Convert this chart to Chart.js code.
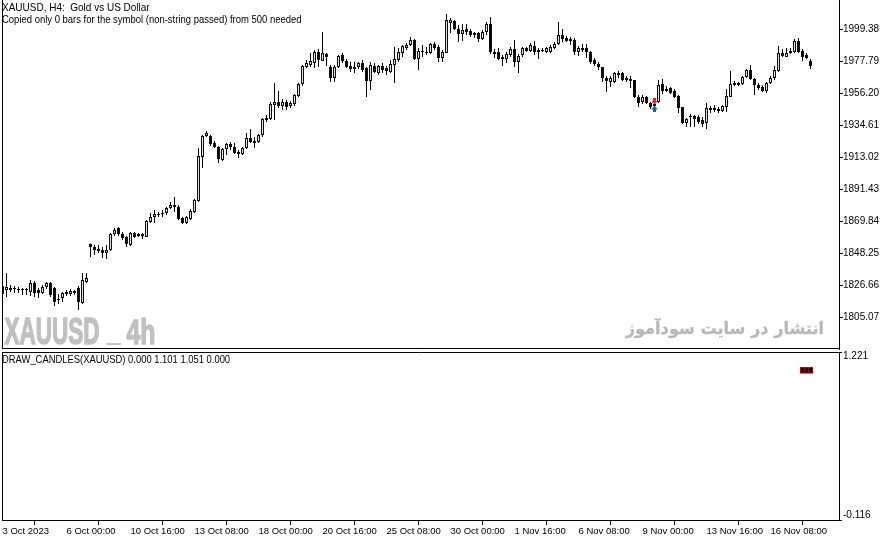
<!DOCTYPE html>
<html><head><meta charset="utf-8">
<script src="https://cdn.jsdelivr.net/npm/chart.js@4.4.0/dist/chart.umd.min.js"></script>
<style>
html,body{margin:0;padding:0;background:#fff;overflow:hidden}
#p1{position:absolute;left:0;top:0;width:892px;height:350px}
#p2{position:absolute;left:0;top:350px;width:892px;height:191px}
</style></head><body>
<div id="p1"><canvas id="c1" width="892" height="350"></canvas></div>
<div id="p2"><canvas id="c2" width="892" height="191"></canvas></div>
<script>
// ---- data (XAUUSD H4) ----
const openP = [1826.4,1823.7,1823.7,1824.4,1824.4,1823.7,1824.4,1822.4,1828.4,1823.7,
1821.7,1825.7,1828.4,1825.1,1817.7,1818.3,1821.0,1821.0,1823.1,1825.1,
1815.0,1829.1,1854.7,1852.7,1850.0,1850.7,1848.6,1850.7,1861.4,1865.5,
1861.4,1859.4,1854.0,1862.1,1861.4,1861.4,1859.4,1869.5,1872.9,1874.9,
1875.6,1875.6,1878.9,1880.9,1879.6,1872.2,1868.8,1871.5,1876.2,1883.6,
1913.2,1927.4,1927.4,1922.7,1920.0,1911.2,1918.6,1922.0,1920.0,1916.6,
1915.3,1919.3,1926.0,1924.0,1923.3,1928.0,1938.1,1938.8,1948.2,1950.3,
1947.6,1950.3,1947.6,1948.9,1954.3,1962.4,1973.8,1975.2,1976.5,1983.9,
1977.9,1982.6,1973.8,1966.4,1973.8,1981.9,1977.9,1974.5,1973.8,1973.8,
1976.5,1973.1,1964.4,1974.5,1969.8,1974.5,1973.1,1970.4,1975.2,1978.5,
1983.2,1986.6,1988.6,1992.0,1979.2,1984.6,1983.9,1983.2,1989.3,1987.3,
1979.9,1983.2,2003.4,2004.8,1999.4,1996.0,1999.4,1998.0,1996.7,1996.7,
1992.7,1997.4,2002.7,1983.9,1983.9,1980.5,1979.2,1981.9,1985.9,1977.2,
1981.9,1986.6,1984.6,1987.9,1985.3,1984.6,1983.9,1983.9,1986.6,1989.3,
1995.3,1993.3,1992.7,1992.0,1983.9,1985.3,1986.6,1983.9,1978.5,1975.8,
1973.8,1966.4,1963.7,1963.7,1969.8,1969.8,1966.4,1965.7,1965.1,1953.6,
1950.3,1953.6,1949.6,1947.6,1950.3,1962.4,1959.0,1959.7,1957.7,1954.3,
1946.9,1936.1,1940.2,1940.8,1940.2,1938.1,1936.1,1946.2,1946.2,1945.5,
1944.2,1946.9,1953.6,1963.0,1963.0,1962.4,1967.1,1971.8,1965.7,1961.7,
1960.3,1957.7,1963.0,1966.4,1971.1,1983.2,1980.5,1983.2,1983.9,1991.3,
1984.6,1981.9,1977.9];
const highP = [1828.4,1835.2,1827.1,1826.4,1825.7,1825.1,1825.1,1830.5,1829.8,1825.1,
1827.1,1829.1,1829.1,1825.7,1821.0,1822.4,1823.7,1824.4,1823.7,1826.4,
1835.2,1835.2,1855.0,1854.0,1854.0,1852.7,1854.0,1862.1,1865.5,1866.1,
1862.8,1860.1,1862.8,1862.8,1862.1,1862.1,1870.8,1875.6,1877.6,1876.2,
1877.6,1879.6,1882.9,1886.3,1880.9,1872.9,1873.5,1878.2,1885.0,1919.3,
1928.0,1930.7,1928.0,1924.0,1920.6,1919.3,1922.7,1923.3,1922.7,1917.9,
1920.0,1929.4,1932.1,1926.7,1928.7,1939.5,1941.5,1950.3,1963.0,1957.7,
1952.3,1951.6,1950.9,1955.6,1963.0,1975.2,1978.5,1983.2,1985.3,1985.9,
1997.4,1983.2,1975.2,1975.2,1981.9,1983.2,1979.2,1977.2,1977.2,1977.2,
1978.5,1973.8,1977.2,1976.5,1975.2,1976.5,1974.5,1978.5,1987.3,1986.6,
1988.6,1990.0,1994.0,1992.7,1986.6,1988.6,1987.3,1990.0,1990.6,1988.6,
1985.3,2009.5,2006.8,2005.4,2002.1,2002.7,2002.7,1999.4,1997.4,1997.4,
1998.7,2004.1,2007.5,1985.9,1986.6,1981.9,1983.9,1987.3,1992.0,1982.6,
1987.3,1987.3,1990.0,1991.3,1986.6,1986.6,1987.3,1988.6,1990.6,2004.1,
1999.4,1994.7,1994.0,1993.3,1987.9,1989.3,1989.3,1984.6,1979.9,1977.2,
1973.8,1967.8,1967.8,1970.4,1971.1,1970.4,1967.8,1967.8,1965.1,1955.0,
1955.0,1954.3,1950.3,1951.6,1965.1,1965.7,1961.0,1960.3,1959.0,1955.0,
1946.9,1939.5,1942.2,1941.5,1941.5,1940.2,1949.6,1947.6,1948.2,1946.9,
1948.2,1959.0,1971.1,1964.4,1963.7,1967.8,1972.5,1975.2,1966.4,1963.0,
1961.7,1963.7,1967.8,1974.5,1987.9,1985.9,1986.6,1986.6,1992.7,1993.3,
1985.9,1983.2,1979.2];
const lowP = [1819.7,1819.0,1822.4,1821.7,1821.7,1820.4,1820.4,1819.7,1819.0,1818.3,
1821.0,1824.4,1819.0,1812.9,1814.3,1815.6,1819.7,1819.7,1820.4,1810.3,
1814.3,1828.4,1845.9,1847.3,1848.6,1845.3,1844.6,1850.0,1860.1,1860.1,
1857.4,1852.7,1853.3,1858.7,1859.4,1858.1,1859.4,1868.8,1868.8,1872.9,
1872.9,1874.2,1878.2,1876.2,1870.8,1868.2,1868.2,1870.8,1875.6,1882.9,
1905.8,1926.7,1920.6,1919.3,1909.2,1910.5,1914.6,1917.9,1915.3,1912.6,
1914.6,1918.6,1922.7,1919.3,1922.7,1926.7,1936.8,1938.1,1938.1,1946.2,
1944.9,1944.9,1946.2,1947.6,1953.6,1961.0,1973.1,1973.8,1973.1,1973.8,
1977.9,1974.5,1963.7,1963.7,1973.1,1976.5,1973.1,1970.4,1969.8,1972.5,
1970.4,1953.6,1958.3,1969.8,1968.4,1969.8,1968.4,1969.8,1963.0,1977.2,
1980.5,1985.3,1987.9,1978.5,1971.8,1980.5,1981.9,1982.6,1985.3,1977.2,
1977.2,1983.2,1996.7,1998.7,1990.6,1991.3,1995.3,1994.0,1993.3,1990.6,
1992.0,1995.3,1982.6,1979.9,1978.5,1974.5,1976.5,1980.5,1973.8,1969.8,
1980.5,1983.9,1983.9,1981.9,1979.2,1983.9,1983.2,1983.2,1985.9,1988.6,
1990.6,1990.6,1988.6,1981.9,1981.2,1983.9,1979.9,1975.8,1974.5,1971.8,
1963.7,1957.0,1960.3,1963.0,1966.4,1964.4,1963.7,1959.7,1952.9,1946.9,
1948.9,1948.9,1945.5,1944.9,1949.6,1955.6,1957.0,1955.6,1953.0,1942.9,
1935.5,1933.4,1933.4,1933.4,1935.5,1933.4,1932.1,1942.9,1943.5,1942.9,
1943.5,1943.5,1953.6,1961.0,1961.0,1961.7,1966.4,1965.1,1955.0,1958.3,
1957.0,1956.3,1962.4,1965.1,1970.4,1980.5,1980.5,1982.6,1983.2,1983.2,
1977.9,1979.2,1972.5];
const closeP = [1821.0,1825.7,1825.1,1825.1,1823.7,1824.4,1823.7,1828.4,1821.7,1821.7,
1825.7,1828.4,1820.4,1815.6,1817.0,1821.7,1822.4,1823.1,1821.7,1815.6,
1830.5,1831.8,1852.7,1850.7,1851.3,1848.6,1850.7,1861.4,1864.1,1861.4,
1858.7,1854.7,1862.1,1859.4,1860.1,1859.7,1870.2,1872.9,1874.9,1874.2,
1874.9,1878.9,1880.9,1879.6,1871.5,1868.8,1872.9,1876.9,1884.3,1913.9,
1927.4,1929.4,1922.0,1920.0,1911.9,1918.6,1922.0,1920.0,1915.9,1915.3,
1919.3,1926.0,1923.3,1922.7,1928.0,1938.8,1939.5,1948.9,1950.3,1947.6,
1950.3,1946.9,1949.6,1955.0,1962.4,1974.5,1976.5,1977.9,1983.9,1978.5,
1983.2,1980.5,1966.4,1973.8,1981.2,1977.9,1973.8,1972.5,1972.5,1976.5,
1971.8,1964.4,1975.2,1970.4,1974.5,1971.8,1971.1,1975.8,1979.2,1983.9,
1987.9,1988.6,1992.0,1979.2,1984.6,1983.9,1983.2,1989.3,1986.6,1979.9,
1983.9,2005.4,2005.4,1999.4,1996.0,1998.7,1997.4,1995.3,1995.3,1992.7,
1997.4,2002.7,1983.9,1982.6,1979.2,1979.2,1982.6,1985.9,1977.2,1981.2,
1986.6,1984.6,1988.6,1983.9,1983.9,1985.3,1986.6,1987.3,1989.3,1995.3,
1992.7,1991.3,1991.3,1983.9,1986.6,1986.6,1983.9,1977.2,1975.8,1973.8,
1966.4,1964.4,1966.4,1969.8,1968.4,1965.1,1965.1,1964.4,1953.6,1949.6,
1953.6,1949.6,1946.9,1948.9,1961.7,1957.7,1957.7,1956.3,1953.6,1946.2,
1936.1,1938.8,1940.8,1938.8,1936.8,1935.5,1946.2,1944.9,1944.9,1944.2,
1947.6,1954.3,1962.4,1961.7,1961.7,1967.1,1971.8,1965.7,1961.7,1959.7,
1957.7,1963.0,1966.4,1971.8,1983.2,1981.2,1983.2,1984.6,1991.3,1983.9,
1980.5,1979.9,1974.5];

const sellBars = [163], sellPrices = [1950.6];
const buyBars = [163], buyPrices = [1945.7];

const yTickValues = [1999.38,1977.79,1956.20,1934.61,1913.02,1891.43,1869.84,1848.25,1826.66,1805.07];
const yMin = 1784.03, yMax = 2018.90;

const xTickBars = [0,16,32,48,64,80,96,112,128,144,160,176,192];
const xTickLabels = ['3 Oct 2023','6 Oct 00:00','10 Oct 16:00','13 Oct 08:00','18 Oct 00:00','20 Oct 16:00','25 Oct 08:00','30 Oct 00:00','1 Nov 16:00','6 Nov 08:00','9 Nov 00:00','13 Nov 16:00','16 Nov 08:00'];

const subBars = [200,201,202];
const subHigh = [1.101,1.101,1.101];
const subLow = [1.051,1.051,1.051];
const subTickValues = [1.221,-0.116];
const subTickLabels = ['1.221','-0.116'];
const subMin = -0.116, subMax = 1.221;

const xMin = -0.125, xMax = 209.125;

Chart.defaults.font.family = '"Liberation Sans", Arial, sans-serif';
Chart.defaults.color = '#000';

function fitWidth(ctx, text, font, color, x0, x1, baseline){
  ctx.save(); ctx.font = font; ctx.fillStyle = color; ctx.textAlign='left'; ctx.textBaseline='alphabetic';
  const m = ctx.measureText(text);
  const w = m.actualBoundingBoxLeft + m.actualBoundingBoxRight;
  ctx.translate(x0, baseline); ctx.scale((x1-x0)/w, 1);
  ctx.fillText(text, m.actualBoundingBoxLeft, 0); ctx.restore();
}
function fitBox(ctx, text, font, color, x0, y0, x1, y1, stroke){
  ctx.save(); ctx.font = font; ctx.fillStyle = color; ctx.textAlign='left'; ctx.textBaseline='alphabetic';
  const m = ctx.measureText(text);
  const w = m.actualBoundingBoxLeft + m.actualBoundingBoxRight;
  const h = m.actualBoundingBoxAscent + m.actualBoundingBoxDescent;
  ctx.translate(x0, y0); ctx.scale((x1-x0)/w, (y1-y0)/h);
  ctx.fillText(text, m.actualBoundingBoxLeft, m.actualBoundingBoxAscent);
  if (stroke){ ctx.strokeStyle = color; ctx.lineWidth = stroke; ctx.lineJoin='round';
    ctx.strokeText(text, m.actualBoundingBoxLeft, m.actualBoundingBoxAscent); }
  ctx.restore();
}

function arrowImg(color, down){
  const c = document.createElement('canvas'); c.width = 7; c.height = 6;
  const g = c.getContext('2d'); g.fillStyle = color;
  g.beginPath();
  if (down){
    g.rect(2,0,3,3); g.moveTo(0,2.5); g.lineTo(7,2.5); g.lineTo(3.5,6); g.closePath();
  } else {
    g.moveTo(3.5,0); g.lineTo(7,3.5); g.lineTo(0,3.5); g.closePath(); g.rect(2,3,3,3);
  }
  g.fill();
  return c;
}

function noPad(s){ s.paddingTop = 0; s.paddingBottom = 0; s.paddingLeft = 0; s.paddingRight = 0; }

const framePlugin = {
  id:'frame',
  afterDraw(chart, args, opts){
    const {ctx, chartArea:a} = chart;
    ctx.save(); ctx.strokeStyle = '#000'; ctx.lineWidth = 1;
    ctx.beginPath();
    ctx.moveTo(a.left+0.5, a.top); ctx.lineTo(a.left+0.5, a.bottom);
    if (opts.bottom){ ctx.moveTo(a.left, a.bottom-0.5); ctx.lineTo(a.right, a.bottom-0.5); }
    if (opts.top){ ctx.moveTo(a.left, a.top+0.5); ctx.lineTo(a.right, a.top+0.5); }
    ctx.stroke(); ctx.restore();
  }
};

const mainText = {
  id:'mainText',
  beforeDatasetsDraw(chart){
    const ctx = chart.ctx;
    fitBox(ctx, 'XAUUSD', 'bold 40px "Liberation Sans Narrow", "Liberation Sans", sans-serif', '#c0c0c0', 4.5, 317.5, 99, 343.5, 1.6);
    fitBox(ctx, '_', 'bold 40px "Liberation Sans", sans-serif', '#c0c0c0', 106, 343, 121, 345.5);
    fitBox(ctx, '4h', 'bold 40px "Liberation Sans Narrow", "Liberation Sans", sans-serif', '#c0c0c0', 126.5, 317.5, 154, 343.5, 1.6);
    fitBox(ctx, 'انتشار در سایت سودآموز', 'bold 22px "DejaVu Sans", sans-serif', '#b8b8b8', 625, 317, 823, 338.5, 0.4);
  },
  afterDraw(chart){
    const ctx = chart.ctx;
    fitWidth(ctx, 'XAUUSD, H4:  Gold vs US Dollar', '11px "Liberation Sans", sans-serif', '#000', 2, 150, 10.5);
    fitWidth(ctx, 'Copied only 0 bars for the symbol (non-string passed) from 500 needed', '11px "Liberation Sans", sans-serif', '#000', 2, 301.5, 23);
  }
};

const subText = {
  id:'subText',
  afterDraw(chart){
    fitWidth(chart.ctx, 'DRAW_CANDLES(XAUUSD) 0.000 1.101 1.051 0.000', '11px "Liberation Sans", sans-serif', '#000', 2, 230, 13);
  }
};

const bodyFill = openP.map((o,i) => closeP[i] >= o ? '#ffffff' : '#000000');

new Chart(document.getElementById('c1'), {
  type:'bar',
  data:{ datasets:[
    { label:'wick', data: highP.map((h,i)=>({x:i, y:[lowP[i], h]})), backgroundColor:'#000', borderWidth:0,
      grouped:false, maxBarThickness:1, order:3 },
    { label:'body', data: openP.map((o,i)=>({x:i, y:[o, closeP[i]]})), backgroundColor: bodyFill, borderColor:'#000',
      borderWidth:1, borderSkipped:false, grouped:false, maxBarThickness:3, minBarLength:1, order:2 },
    { type:'line', label:'sell', data: sellBars.map((b,i)=>({x:b, y:sellPrices[i]})), showLine:false,
      pointStyle: arrowImg('#e8231f', true), pointRadius:4, order:1 },
    { type:'line', label:'buy', data: buyBars.map((b,i)=>({x:b, y:buyPrices[i]})), showLine:false,
      pointStyle: arrowImg('#1c5fae', false), pointRadius:4, order:1 }
  ]},
  options:{
    responsive:false, animation:false, events:[],
    layout:{autoPadding:false, padding:{left:2, top:0, right:0, bottom:1}},
    plugins:{legend:{display:false}, tooltip:{enabled:false}, frame:{bottom:true, top:false}},
    scales:{
      x:{type:'linear', min:xMin, max:xMax, offset:false, display:false},
      y:{type:'linear', position:'right', min:yMin, max:yMax, bounds:'data',
         afterFit(s){ s.width = 53; noPad(s); },
         afterBuildTicks(s){ s.ticks = yTickValues.map(v=>({value:v})); },
         ticks:{autoSkip:false, padding:0, color:'#000', font:{size:10}, callback:(v)=>Number(v).toFixed(2)},
         grid:{drawOnChartArea:false, drawTicks:true, tickLength:4, color:'#000'},
         border:{display:true, color:'#000', width:1}}
    }
  },
  plugins:[framePlugin, mainText]
});

new Chart(document.getElementById('c2'), {
  type:'bar',
  data:{ datasets:[
    { label:'DRAW_CANDLES', data: subBars.map((b,i)=>({x:b, y:[subLow[i], subHigh[i]]})), backgroundColor:'#000',
      borderColor:'#ff0000', borderWidth:1, borderSkipped:false, barThickness:5 }
  ]},
  options:{
    responsive:false, animation:false, events:[],
    layout:{autoPadding:false, padding:{left:2, top:2, right:0, bottom:0}},
    plugins:{legend:{display:false}, tooltip:{enabled:false}, frame:{bottom:false, top:true}},
    scales:{
      x:{type:'linear', position:'bottom', min:xMin, max:xMax, offset:false, bounds:'data',
         afterFit(s){ s.height = 21; noPad(s); },
         afterBuildTicks(s){ s.ticks = xTickBars.map(v=>({value:v})); },
         ticks:{autoSkip:false, maxRotation:0, minRotation:0, align:'start', padding:1, color:'#000', font:{size:9.5},
                callback:(v,idx)=>xTickLabels[idx]},
         grid:{drawOnChartArea:false, drawTicks:true, tickLength:5, color:'#000'},
         border:{display:true, color:'#000', width:1}},
      y:{type:'linear', position:'right', min:subMin, max:subMax, bounds:'data',
         afterFit(s){ s.width = 53; noPad(s); },
         afterBuildTicks(s){ s.ticks = subTickValues.map(v=>({value:v})); },
         ticks:{autoSkip:false, padding:1, color:'#000', font:{size:10, lineHeight:0.9},
                callback:(v,idx)=> v >= subMax ? ['', subTickLabels[idx]] : [subTickLabels[idx], '']},
         grid:{drawOnChartArea:false, drawTicks:true, tickLength:3, color:'#000'},
         border:{display:true, color:'#000', width:1}}
    }
  },
  plugins:[framePlugin, subText]
});
</script>
</body></html>
